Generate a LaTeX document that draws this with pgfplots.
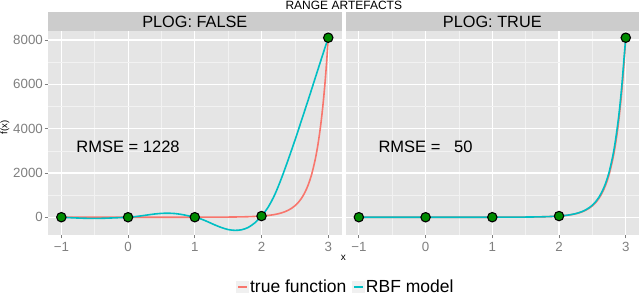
\documentclass[border=0pt]{standalone}
\usepackage{pgfplots}
\pgfplotsset{compat=1.18}
\usepackage{pgfplotstable}
\usepackage{fontspec}
\setmainfont{Liberation Sans}
\definecolor{panel}{HTML}{E5E5E5}
\definecolor{stripc}{HTML}{CCCCCC}
\definecolor{minorg}{HTML}{F2F2F2}
\definecolor{ticklab}{HTML}{7F7F7F}
\definecolor{truec}{HTML}{F8766D}
\definecolor{rbfc}{HTML}{00BFC4}
\definecolor{ptc}{HTML}{008B00}

\pgfplotstableread{
x y
-1.0 2.718
-0.9 2.248
-0.8 1.896
-0.7 1.632
-0.6 1.433
-0.5 1.284
-0.4 1.174
-0.3 1.094
-0.2 1.041
-0.1 1.010
0.0 1.000
0.1 1.010
0.2 1.041
0.3 1.094
0.4 1.174
0.5 1.284
0.6 1.433
0.7 1.632
0.8 1.896
0.9 2.248
1.0 2.718
1.1 3.353
1.2 4.221
1.3 5.419
1.4 7.099
1.5 9.488
1.6 12.94
1.7 17.99
1.8 25.53
1.9 36.97
2.0 54.60
2.05 66.85
2.1 82.27
2.15 101.8
2.2 126.5
2.25 158.0
2.3 198.3
2.35 250.2
2.4 317.2
2.45 404.4
2.5 518.0
2.55 666.6
2.6 862.6
2.65 1122
2.7 1465
2.75 1923
2.8 2540
2.825 2924
2.85 3370
2.875 3888
2.9 4492
2.925 5196
2.95 6015
2.975 6979
3.0 8103
}\truetab

\pgfplotstableread{
x y
-1.0 2.7
-0.9 -14
-0.8 -28
-0.7 -40
-0.6 -48
-0.5 -50
-0.4 -47
-0.3 -38
-0.2 -26
-0.1 -12
0.0 1
0.1 28
0.2 65
0.3 108
0.4 148
0.5 175
0.6 183
0.7 168
0.8 128
0.9 68
1.0 2.7
1.1 -85
1.2 -210
1.3 -345
1.4 -465
1.5 -555
1.6 -590
1.7 -565
1.8 -460
1.9 -250
2.0 55
2.1 460
2.2 1030
2.3 1770
2.4 2600
2.5 3470
2.6 4380
2.7 5300
2.8 6240
2.9 7180
3.0 8103
}\rbfleft

\pgfplotstableread{
x y
-1.0 2.718
-0.9 2.25
-0.8 1.90
-0.7 1.63
-0.6 1.43
-0.5 1.28
-0.4 1.17
-0.3 1.09
-0.2 1.04
-0.1 1.01
0.0 1.00
0.1 1.01
0.2 1.04
0.3 1.09
0.4 1.17
0.5 1.28
0.6 1.43
0.7 1.63
0.8 1.90
0.9 2.25
1.0 2.718
1.1 3.40
1.2 4.35
1.3 5.60
1.4 7.40
1.5 9.90
1.6 13.5
1.7 18.6
1.8 26.0
1.9 37.5
2.0 54.6
2.05 68
2.1 85
2.15 105
2.2 132
2.25 165
2.3 208
2.35 263
2.4 335
2.45 428
2.5 548
2.55 706
2.6 915
2.65 1188
2.7 1550
2.75 2030
2.8 2680
2.825 3080
2.85 3550
2.875 4090
2.9 4700
2.925 5420
2.95 6250
2.975 7200
3.0 8103
}\rbfright

\pgfplotstableread{
x y
-1 2.718
0 1
1 2.718
2 54.6
3 8103
}\pts

\pgfplotsset{
  facet/.style={
    scale only axis, width=293.6pt, height=204.3pt,
    anchor=south west,
    xmin=-1.2, xmax=3.2, ymin=-800, ymax=8420,
    axis background/.style={fill=panel},
    axis line style={draw=none},
    xtick={-1,0,1,2,3}, xticklabels={−1,0,1,2,3},
    ytick={0,2000,4000,6000,8000},
    yticklabels={0,2000,4000,6000,8000},
    scaled ticks=false,
    minor xtick={-0.5,0.5,1.5,2.5},
    minor ytick={1000,3000,5000,7000},
    grid=both,
    major grid style={white, line width=1.1pt},
    minor grid style={minorg, line width=0.55pt},
    tick align=outside,
    major tick length=3.5pt,
    minor tick length=0pt,
    tick style={ticklab, line width=0.9pt},
    tick pos=left,
    ticklabel style={font=\fontsize{13.3}{14}\selectfont, text=ticklab},
    yticklabel style={inner xsep=1.5pt},
  },
  truestyle/.style={truec, line width=1.6pt, smooth},
  rbfstyle/.style={rbfc, line width=1.6pt, smooth},
  ptstyle/.style={only marks, mark=*, mark size=4.7pt,
    mark options={fill=ptc, draw=black, line width=1.1pt}},
}

\begin{document}
\begin{tikzpicture}[x=1pt,y=1pt]
\path[use as bounding box] (0,0) rectangle (640,296);

\begin{axis}[facet, at={(48pt,61pt)},
  legend style={at={(1.0133,-0.2555)}, anchor=center, draw=none, fill=none,
    legend columns=2, font=\fontsize{17.5}{18}\selectfont,
    inner sep=0.5pt, nodes={inner sep=1pt},
    /tikz/every even column/.append style={column sep=5pt},
    legend cell align=left},
  legend image code/.code={%
    \fill[black!6] (0pt,-5.5pt) rectangle (11pt,5.5pt);
    \draw[#1] (1pt,0pt) -- (10pt,0pt);}
]
\addplot[truestyle] table {\truetab};
\addplot[rbfstyle] table {\rbfleft};
\addplot[ptstyle, forget plot] table {\pts};
\legend{true function, RBF model}
\node[anchor=base, font=\fontsize{16.5}{17}\selectfont] at (axis cs:0,2940) {RMSE = 1228};
\end{axis}

\begin{axis}[facet, at={(345.5pt,61pt)}, yticklabels={}, ytick style={draw=none}]
\addplot[truestyle] table {\truetab};
\addplot[rbfstyle] table {\rbfright};
\addplot[ptstyle] table {\pts};
\node[anchor=base, font=\fontsize{16.5}{17}\selectfont] at (axis cs:0,2940) {RMSE =\ \ \ 50};
\end{axis}

% facet strips
\fill[stripc] (48,265.3) rectangle (341.6,283.7);
\fill[stripc] (345.5,265.3) rectangle (639.1,283.7);
\node[anchor=base, font=\fontsize{16.3}{17}\selectfont, inner sep=0pt] at (194.8,268.2) {PLOG: FALSE};
\node[anchor=base, font=\fontsize{16.3}{17}\selectfont, inner sep=0pt] at (492.3,268.2) {PLOG: TRUE};

% title and axis labels
\node[anchor=base, font=\fontsize{12}{13}\selectfont, inner sep=0pt] at (343.8,286.9) {RANGE ARTEFACTS};
\node[font=\fontsize{10}{11}\selectfont, inner sep=0pt] at (343.3,37.7) {x};
\node[rotate=90, font=\fontsize{9.5}{10}\selectfont, inner sep=0pt] at (5,168.5) {f(x)};
\end{tikzpicture}
\end{document}
